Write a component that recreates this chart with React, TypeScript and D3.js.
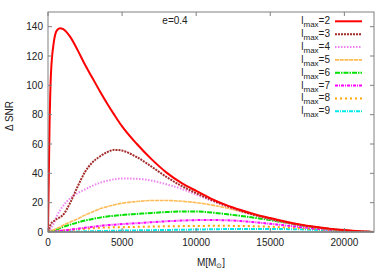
import React from 'react';
import * as d3 from 'd3';

// M[Msun] sample points and Delta SNR for each l_max
const masses = [0, 100, 200, 400, 600, 800, 1000, 1500, 2000, 2500, 3000, 3500, 4000, 4500, 5000, 6000, 7000, 8000, 9000, 10000, 11000, 12000, 13000, 14000, 15000, 16000, 17000, 18000, 19000, 20000, 21000, 22000];

const snr2 = [0, 70, 108, 130, 137.5, 139, 138.5, 133, 124, 114, 105, 96, 87.5, 79.5, 72, 60, 49.5, 40.5, 33.5, 28, 22.8, 18.5, 15, 12, 9.5, 7.2, 5.2, 3.6, 2.3, 1.3, 0.5, 0];
const snr3 = [0, 3, 5.5, 7.5, 9, 10, 11.5, 20, 31, 41, 47.5, 51.5, 54.5, 56, 55.5, 51, 44.5, 37.5, 31.5, 26.5, 22, 18, 14.5, 11.5, 9, 6.8, 4.8, 3.3, 2.1, 1.1, 0.4, 0];
const snr4 = [0, 1, 2.5, 6, 11, 14.5, 17.5, 23, 26.5, 29, 31.5, 33.5, 35, 36, 36.5, 36.3, 35, 32.5, 29.5, 25.5, 21.5, 17.8, 14.2, 11.2, 8.6, 6.4, 4.6, 3.1, 1.9, 1, 0.4, 0];
const snr5 = [0, 0.4, 0.8, 1.6, 2.4, 3.2, 4.5, 6.8, 9, 11.5, 13.7, 15.8, 17.3, 18.6, 19.6, 20.8, 21.5, 21.5, 21, 20, 18.5, 16.5, 14, 11.5, 9, 6.8, 4.8, 3.2, 2, 1, 0.4, 0];
const snr6 = [0, 0.3, 0.6, 1.2, 1.8, 2.6, 3.4, 5, 6.5, 7.8, 8.9, 9.8, 10.6, 11.1, 11.6, 12.3, 13, 13.6, 14, 14, 13.3, 12.2, 11, 9.6, 8.1, 6.4, 4.7, 3.3, 2, 1, 0.4, 0];
const snr7 = [0, 0.1, 0.2, 0.4, 0.6, 0.8, 1, 1.6, 2.2, 2.9, 3.5, 4.2, 4.7, 5, 5.4, 6, 6.7, 7.3, 7.8, 8.1, 8.2, 8, 7.5, 6.6, 5.6, 4.5, 3.4, 2.4, 1.5, 0.8, 0.3, 0];
const snr8 = [0, 0.1, 0.2, 0.4, 0.6, 0.8, 1, 1.4, 1.8, 2.2, 2.6, 2.9, 3.1, 3.2, 3.3, 3.5, 3.7, 3.9, 4, 4.1, 4.2, 4.2, 4.1, 3.9, 3.6, 3.1, 2.6, 2, 1.3, 0.7, 0.3, 0];
const snr9 = [0, 0.02, 0.04, 0.08, 0.1, 0.12, 0.15, 0.25, 0.35, 0.45, 0.55, 0.65, 0.75, 0.85, 0.95, 1.1, 1.25, 1.4, 1.55, 1.7, 1.85, 2, 2.05, 2.1, 2.05, 2, 1.8, 1.5, 1.1, 0.7, 0.3, 0];

const lmaxLabels = ['2', '3', '4', '5', '6', '7', '8', '9'];
const xTicks = [0, 5000, 10000, 15000, 20000];
const yTicks = [0, 20, 40, 60, 80, 100, 120, 140];

const seriesValues = [snr2, snr3, snr4, snr5, snr6, snr7, snr8, snr9];
const colors = ['#ff0000', '#a52a2a', '#ee82ee', '#ffbb55', '#00e000', '#ff00ff', '#ffa500', '#00e8e8'];
const dashes = ['', '2,1', '1.5,1.5', '4,0.7', '5,1,1.5,1', '3,1,1,1', '2,3', '4,1,1,1'];

const width = 392;
const height = 274;
const margin = { top: 12, right: 18, bottom: 42, left: 48 };

const App: React.FC = () => {
    const x = d3.scaleLinear().domain([0, 22000]).range([margin.left, width - margin.right]);
    const y = d3.scaleLinear().domain([0, 150]).range([height - margin.bottom, margin.top]);

    const line = d3.line<number>()
        .x((_, i) => x(masses[i]))
        .y(d => y(d))
        .curve(d3.curveMonotoneX);

    const font = '"Liberation Sans", Arial, sans-serif';
    const axisColor = '#808080';
    const x0 = margin.left;
    const x1 = width - margin.right;
    const y0 = height - margin.bottom;
    const y1 = margin.top;

    return (
        <svg width={width} height={height} style={{ position: 'absolute', left: 0, top: 0, background: '#fff' }} fontFamily={font}>
            <defs>
                <clipPath id="plot">
                    <rect x={x0} y={y1} width={x1 - x0} height={y0 - y1} />
                </clipPath>
            </defs>

            {/* curves, drawn last-first so red sits on top */}
            <g clipPath="url(#plot)">
                {seriesValues.map((vals, i) => ({ vals, i })).reverse().map(({ vals, i }) => (
                    <path key={i} d={line(vals) || ''} fill="none" stroke={colors[i]}
                        strokeWidth={i === 3 ? 1.6 : 2} strokeDasharray={dashes[i] || undefined} />
                ))}
            </g>

            {/* frame */}
            <rect x={x0} y={y1} width={x1 - x0} height={y0 - y1} fill="none" stroke={axisColor} strokeWidth={1} />
            <line x1={x0} x2={x1} y1={y0} y2={y0} stroke={axisColor} strokeWidth={1.5} />

            {/* x ticks */}
            {xTicks.map(t => (
                <g key={'x' + t}>
                    <line x1={x(t)} x2={x(t)} y1={y0} y2={y0 - 4} stroke={axisColor} />
                    <line x1={x(t)} x2={x(t)} y1={y1} y2={y1 + 4} stroke={axisColor} />
                    <text x={x(t)} y={y0 + 14} textAnchor="middle" fontSize={10} fill="#222">{t}</text>
                </g>
            ))}

            {/* y ticks */}
            {yTicks.map(t => (
                <g key={'y' + t}>
                    <line x1={x0} x2={x0 + 4} y1={y(t)} y2={y(t)} stroke={axisColor} />
                    <line x1={x1} x2={x1 - 4} y1={y(t)} y2={y(t)} stroke={axisColor} />
                    <text x={x0 - 5} y={y(t) + 3.5} textAnchor="end" fontSize={10} fill="#222">{t}</text>
                </g>
            ))}

            {/* axis titles */}
            <text transform={`translate(13,${116}) rotate(-90)`} textAnchor="middle" fontSize={10} fill="#222">Δ SNR</text>
            <text x={211} y={266} textAnchor="middle" fontSize={10} fill="#222">
                M[M<tspan fontSize={7} dy={2}>⊙</tspan><tspan dy={-2}>]</tspan>
            </text>

            <text x={175} y={24} textAnchor="middle" fontSize={10} fill="#222">e=0.4</text>

            {/* legend */}
            {lmaxLabels.map((lab, i) => {
                const ly = 21.3 + i * 12.85;
                return (
                    <g key={'l' + lab}>
                        <text x={330} y={ly + 3} textAnchor="end" fontSize={10} fill="#222">
                            l<tspan fontSize={8} dy={3}>max</tspan><tspan dy={-3}>={lab}</tspan>
                        </text>
                        <line x1={335} x2={362} y1={ly} y2={ly} stroke={colors[i]} strokeWidth={i === 3 ? 1.6 : 2}
                            strokeDasharray={dashes[i] || undefined} />
                    </g>
                );
            })}
        </svg>
    );
};

export default App;
